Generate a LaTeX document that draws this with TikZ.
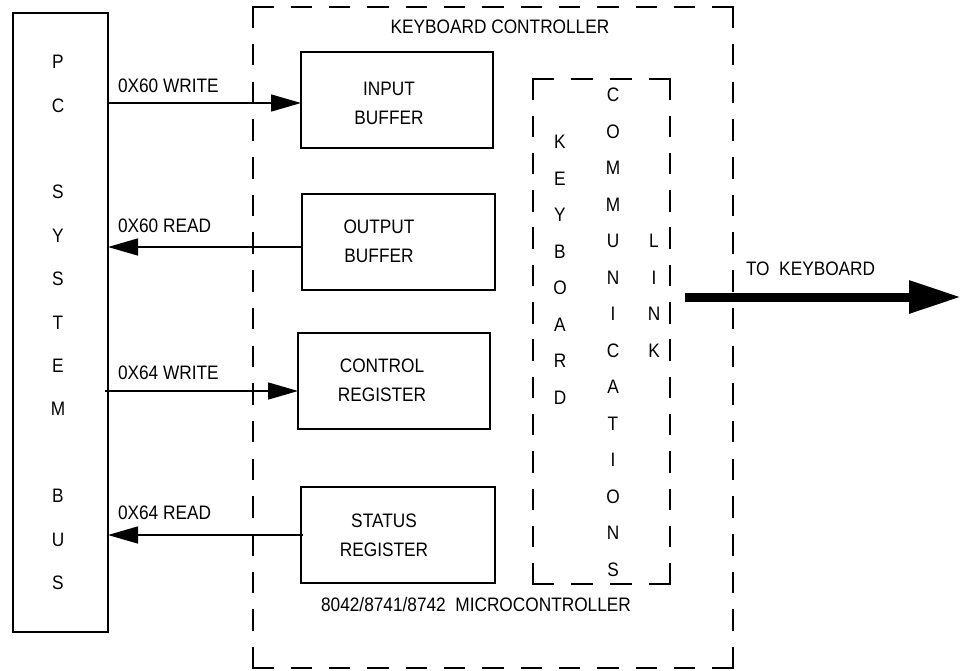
\documentclass[tikz,border=0pt]{standalone}
\usepackage{fontspec}
\setmainfont{Liberation Sans}[FakeStretch=0.885]
\usetikzlibrary{arrows.meta}
\begin{document}
\begin{tikzpicture}[x=1pt,y=-1pt,
  every node/.style={font=\fontsize{19.5}{29}\selectfont, inner sep=0pt, outer sep=0pt},
  blk/.style={draw, line width=1.5pt, minimum height=96pt},
  dsh/.style={line width=1.5pt, line cap=rect, dash pattern=on 20pt off #1},
  arr/.style={line width=1.5pt, -{Triangle[length=30pt,width=17pt]}},
  bigarr/.style={line width=9pt, -{Triangle[length=52pt,width=31pt]}}]
\useasboundingbox (0,0) rectangle (962,670);

% PC system bus
\node[draw, line width=1.5pt, minimum width=95pt, minimum height=619pt] (pc) at (60.5,322.5) {};
\foreach \ch/\k in {P/0,C/1,S/3,Y/4,S/5,T/6,E/7,M/8,B/10,U/11,S/12}
  \node (pc\k) at (58,62+43.4*\k) {\ch};

% outer dashed keyboard controller region
\node[minimum width=480pt, minimum height=661pt] (kbc) at (493,337.5) {};
\draw[dsh=18.33pt] (kbc.north west) -- (kbc.north east);
\draw[dsh=17.7pt] (kbc.north east) -- (kbc.south east);
\draw[dsh=18.33pt] (kbc.south west) -- (kbc.south east);
\draw[dsh=17.7pt] (kbc.north west) -- (kbc.south west);
\node (kbctitle) at (500,27) {KEYBOARD CONTROLLER};
\node (micro) at (476,605) {8042/8741/8742\ \ MICROCONTROLLER};

% inner dashed link region
\node[minimum width=137pt, minimum height=505pt] (link) at (601.5,331.5) {};
\draw[dsh=19pt] (link.north west) -- (link.north east);
\draw[dsh=17.3pt] (link.north east) -- (link.south east);
\draw[dsh=19pt] (link.south west) -- (link.south east);
\draw[dsh=17.3pt] (link.north west) -- (link.south west);
\foreach \ch [count=\i from 0] in {K,E,Y,B,O,A,R,D}
  \node (kb\i) at (560,142+36.5*\i) {\ch};
\foreach \ch [count=\i from 0] in {C,O,M,M,U,N,I,C,A,T,I,O,N,S}
  \node (cm\i) at (613,95+36.5*\i) {\ch};
\foreach \ch [count=\i from 0] in {L,I,N,K}
  \node (lk\i) at (654,241+36.5*\i) {\ch};

% register boxes
\node[blk, minimum width=192pt] (inbuf) at (397,100) {};
\node[align=center] (inlbl) at (389,103) {INPUT\\BUFFER};
\node[blk, minimum width=193pt] (outbuf) at (398.5,242) {};
\node[align=center] (outlbl) at (379,241) {OUTPUT\\BUFFER};
\node[blk, minimum width=192pt] (ctrl) at (394,381) {};
\node[align=center] (ctrllbl) at (382,380) {CONTROL\\REGISTER};
\node[blk, minimum width=194pt] (stat) at (398,535) {};
\node[align=center] (statlbl) at (384,535) {STATUS\\REGISTER};

% bus arrows
\draw[arr] (pc.east |- 0,103) -- (inbuf.west |- 0,103);
\draw[arr] (outbuf.west |- 0,247) -- (pc.east |- 0,247);
\draw[arr] ([xshift=-3pt]pc.east |- 0,391) -- (ctrl.west |- 0,391);
\draw[arr] ([xshift=2pt]stat.west |- 0,535) -- (pc.east |- 0,535);
\node[anchor=west] (l1) at (118,86) {0X60 WRITE};
\node[anchor=west] (l2) at (118,226) {0X60 READ};
\node[anchor=west] (l3) at (118,373) {0X64 WRITE};
\node[anchor=west] (l4) at (118,513) {0X64 READ};

% to keyboard
\coordinate (kbfrom) at (685,297);
\coordinate (kbto) at (961,297);
\draw[bigarr] (kbfrom) -- (kbto);
\node[anchor=west] (tokb) at (746,269) {TO\ \ KEYBOARD};
\end{tikzpicture}
\end{document}
